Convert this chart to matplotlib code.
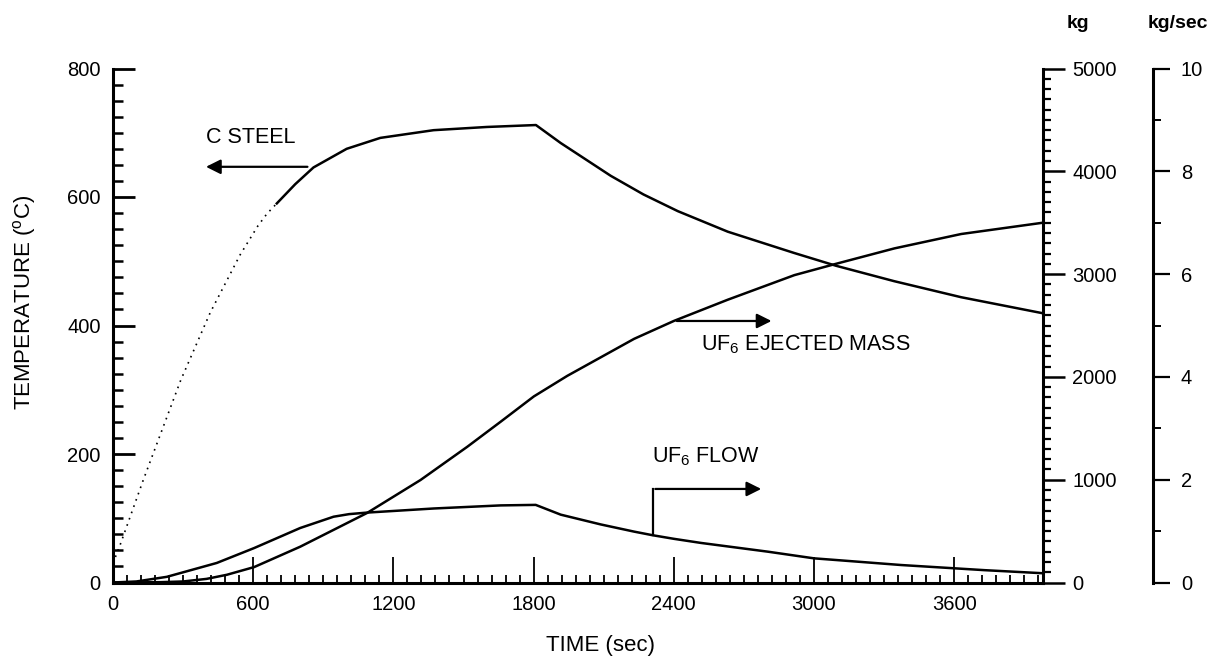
import matplotlib
matplotlib.use("Agg")
import matplotlib.pyplot as plt
from matplotlib.ticker import MultipleLocator

plt.rcParams['font.family'] = ['Liberation Sans', 'DejaVu Sans']
plt.rcParams['mathtext.fontset'] = 'custom'
plt.rcParams['mathtext.rm'] = 'Liberation Sans'
plt.rcParams['mathtext.it'] = 'Liberation Sans:italic'

# ---------------------------
# Data
# ---------------------------
# C steel temperature (degC); dotted up to DOTTED_UNTIL sec
steel_time = [0, 30, 130, 290, 416, 544, 620, 659, 701, 780, 858, 1000, 1144,
              1372, 1600, 1810, 1916, 2000, 2130, 2270, 2417, 2631, 2914,
              3094, 3343, 3630, 3980]
steel_temp = [30, 58, 160, 315, 420, 510, 555, 574, 590, 620, 646, 675, 692,
              704, 709, 712, 684, 664, 633, 604, 578, 546, 513,
              493, 469, 444, 419]
DOTTED_UNTIL = 701

# UF6 ejected mass (kg)
mass_time = [0, 200, 300, 400, 487, 604, 801, 1087, 1316, 1516, 1659, 1801,
             1944, 2087, 2230, 2401, 2630, 2916, 3094, 3344, 3630, 3980]
mass_kg = [0, 3, 10, 35, 75, 150, 348, 676, 997, 1320, 1564, 1810,
           2010, 2190, 2370, 2545, 2750, 2990, 3100, 3250, 3390, 3500]

# UF6 flow (kg/sec)
flow_time = [0, 100, 230, 444, 604, 801, 944, 1010, 1087, 1373, 1659, 1809,
             1916, 2087, 2230, 2309, 2400, 2516, 2802, 3000, 3087, 3373,
             3730, 3980]
flow_rate = [0, 0.02, 0.11, 0.38, 0.67, 1.06, 1.28, 1.33, 1.36, 1.44, 1.50, 1.51,
             1.32, 1.13, 0.99, 0.92, 0.85, 0.77, 0.60, 0.47, 0.44, 0.34,
             0.24, 0.18]

time_ticks = [0, 600, 1200, 1800, 2400, 3000, 3600]
temp_ticks = [0, 200, 400, 600, 800]
mass_ticks = [0, 1000, 2000, 3000, 4000, 5000]
flow_ticks = [0, 2, 4, 6, 8, 10]

W, H = 1216, 664
x0, x1 = 113, 1043
y0, y1 = 582.5, 68.5

fig = plt.figure(figsize=(W / 100, H / 100), dpi=100)
ax = fig.add_axes([x0 / W, 1 - y0 / H, (x1 - x0) / W, (y0 - y1) / H])
ax2 = ax.twinx()
ax3 = ax.twinx()

FS = 14.5     # tick labels
FS_ANN = 15.5  # annotations
FS_LAB = 16   # axis titles
LW = 1.8
SPINE = 2.2

# ---------------------------
# Host axis: temperature
# ---------------------------
split = steel_time.index(DOTTED_UNTIL)
ax.plot(steel_time[:split + 1], steel_temp[:split + 1], color='black',
        lw=1.2, linestyle=(0, (1, 3)))
ax.plot(steel_time[split:], steel_temp[split:], color='black', lw=LW)

ax.set_xlim(0, 3980)
ax.set_ylim(0, 800)
ax.set_xticks(time_ticks)
ax.set_yticks(temp_ticks)
ax.xaxis.set_minor_locator(MultipleLocator(60))
ax.yaxis.set_minor_locator(MultipleLocator(25))
ax.tick_params(axis='x', which='major', direction='in', length=19, width=1.3,
               labelsize=FS, pad=9)
ax.tick_params(axis='x', which='minor', direction='in', length=6, width=1.3)
ax.tick_params(axis='y', which='major', direction='in', length=16, width=2,
               labelsize=FS, pad=9)
ax.tick_params(axis='y', which='minor', direction='in', length=7, width=1.8)
for s in ['top', 'right']:
    ax.spines[s].set_visible(False)
for s in ['left', 'bottom']:
    ax.spines[s].set_linewidth(SPINE)

# ---------------------------
# kg axis: ejected mass
# ---------------------------
ax2.plot(mass_time, mass_kg, color='black', lw=LW)
ax2.set_ylim(0, 5000)
ax2.set_yticks(mass_ticks)
ax2.yaxis.set_minor_locator(MultipleLocator(100))
ax2.tick_params(axis='y', which='major', direction='out', length=16, width=1.8,
                labelsize=FS, pad=5)
ax2.tick_params(axis='y', which='minor', direction='out', length=6, width=1.6)
for s in ['top', 'left', 'bottom']:
    ax2.spines[s].set_visible(False)
ax2.spines['right'].set_linewidth(SPINE)

# ---------------------------
# kg/sec axis: flow
# ---------------------------
ax3.plot(flow_time, flow_rate, color='black', lw=LW)
ax3.set_ylim(0, 10)
ax3.set_yticks(flow_ticks)
ax3.yaxis.set_minor_locator(MultipleLocator(1))
ax3.spines['right'].set_position(('axes', (1153 - x0) / (x1 - x0)))
ax3.tick_params(axis='y', which='major', direction='out', length=12, width=1.6,
                labelsize=FS, pad=8)
ax3.tick_params(axis='y', which='minor', direction='out', length=6, width=1.4)
for s in ['top', 'left', 'bottom']:
    ax3.spines[s].set_visible(False)
ax3.spines['right'].set_linewidth(SPINE)

# ---------------------------
# Annotations
# ---------------------------
arrow = dict(arrowstyle='-|>', color='black', lw=1.6, mutation_scale=22)

ax.text(399, 693, 'C STEEL', fontsize=FS_ANN, va='center', ha='left')
ax.annotate('', xy=(386, 647), xytext=(844, 647), arrowprops=arrow)

ax2.text(2516, 2310, 'UF$_6$ EJECTED MASS', fontsize=FS_ANN, va='center', ha='left')
ax2.annotate('', xy=(2830, 2544), xytext=(2401, 2544), arrowprops=arrow)

ax3.text(2306, 2.44, 'UF$_6$ FLOW', fontsize=FS_ANN, va='center', ha='left')
ax3.plot([2309, 2309], [0.92, 1.82], color='black', lw=1.6)
ax3.annotate('', xy=(2786, 1.82), xytext=(2309, 1.82), arrowprops=arrow)

# ---------------------------
# Axis titles
# ---------------------------
fig.text(600 / W, 1 - 645 / H, 'TIME (sec)', fontsize=FS_LAB, ha='center', va='center')
fig.text(25 / W, 1 - 302 / H, 'TEMPERATURE ($^{\\rm o}$C)', fontsize=FS_LAB,
         ha='center', va='center', rotation=90)
fig.text(1078 / W, 1 - 23 / H, 'kg', fontsize=14, ha='center', va='center',
         fontweight='bold')
fig.text(1178 / W, 1 - 23 / H, 'kg/sec', fontsize=14, ha='center', va='center',
         fontweight='bold')

fig.savefig('out.png', dpi=100)
